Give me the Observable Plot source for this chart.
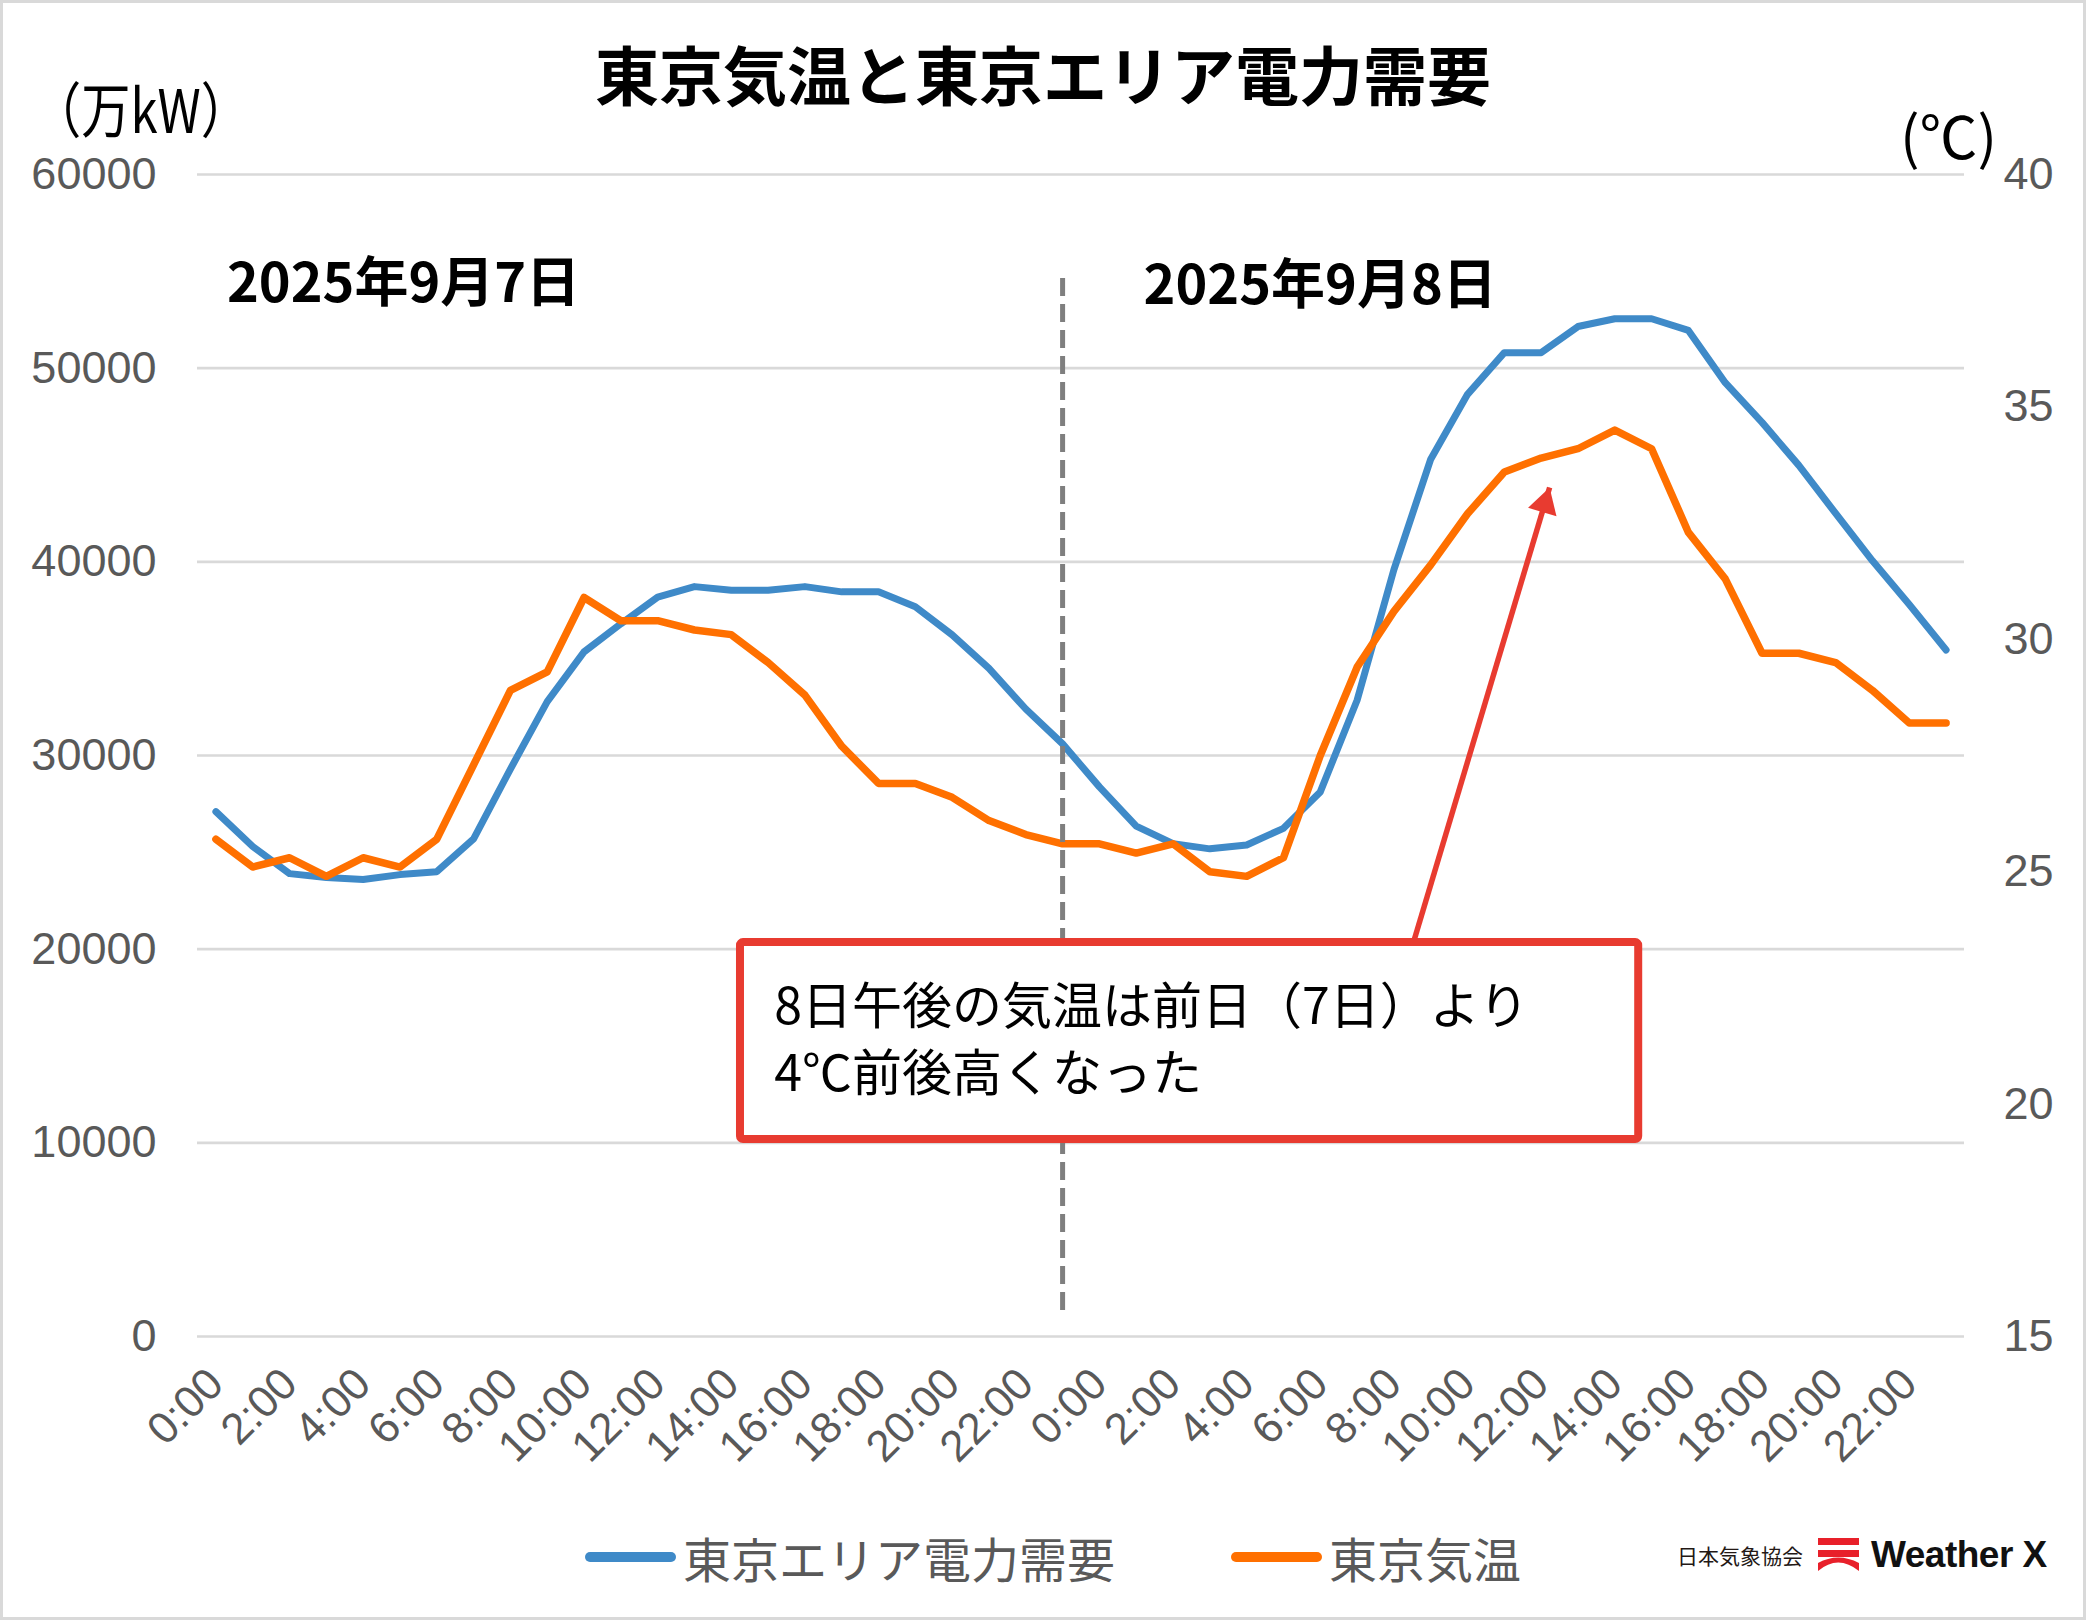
<!DOCTYPE html>
<html><head><meta charset="utf-8">
<script src="https://cdn.jsdelivr.net/npm/d3@7"></script>
<script src="https://cdn.jsdelivr.net/npm/@observablehq/plot@0.6"></script>
<style>
body{margin:0;background:#fff;}
#chart{position:relative;width:2086px;height:1620px;overflow:hidden;background:#fff;font-family:"Noto Sans CJK JP","Noto Sans",sans-serif;}
#plot{position:absolute;left:0;top:0;}
#frame{position:absolute;left:0;top:0;right:0;bottom:0;border:3px solid #d9d9d9;pointer-events:none;}
.abs{position:absolute;white-space:nowrap;}
#title{left:0;width:2086px;top:36px;text-align:center;font-size:64px;line-height:72px;font-weight:bold;color:#000;}
#unitL{left:32px;top:72px;font-size:60px;line-height:70px;color:#000;transform:scaleX(0.82);transform-origin:left center;}
#unitR{left:1900px;top:109px;font-size:58px;line-height:50px;color:#000;}
.leg{top:1527px;height:60px;display:flex;align-items:center;font-size:48px;color:#595959;}
.sw{width:91px;height:10px;border-radius:5px;margin-right:7px;}
#logo{left:1677px;top:1535px;height:40px;display:flex;align-items:center;}
</style></head><body>
<div id="chart">
  <div id="plot"></div>
  <div id="title" class="abs">東京気温と東京エリア電力需要</div>
  <div id="unitL" class="abs">（万kW）</div>
  <div id="unitR" class="abs">(℃)</div>
  <div class="abs leg" style="left:585px"><div class="sw" style="background:#3F8AC8"></div><span>東京エリア電力需要</span></div>
  <div class="abs leg" style="left:1231px"><div class="sw" style="background:#FF7000"></div><span>東京気温</span></div>
  <div id="logo" class="abs">
    <span style="font-size:21px;color:#231815;margin-right:15px;">日本気象協会</span>
    <svg width="41" height="34" viewBox="0 0 41 34" style="margin-right:12px">
      <rect x="0" y="0" width="41" height="7" fill="#E8202A"/>
      <rect x="0" y="12" width="41" height="7" fill="#E8202A"/>
      <path d="M0,33 Q20,16 41,33 L41,25 Q20,14 0,25 Z" fill="#E8202A"/>
    </svg>
    <span style="font-family:'Liberation Sans',Arial,sans-serif;font-weight:bold;font-size:37px;color:#111;letter-spacing:-0.5px;">Weather X</span>
  </div>
  <div id="frame"></div>
</div>
<script>
// hourly index 0..47 : 2025-09-07 0:00 .. 2025-09-08 23:00
const hours = d3.range(48);
// 東京エリア電力需要 (万kW)
const demand = [27100,25300,23900,23700,23600,23850,24000,25700,29300,32780,35350,36800,38180,38720,38530,38530,38720,38450,38450,37680,36230,34500,32400,30600,
                28380,26350,25450,25180,25380,26240,28120,32850,39600,45300,48650,50800,50800,52150,52550,52550,51950,49250,47200,44980,42500,40050,37800,35450];
// 東京気温 (℃)
const temp = [25.7,25.1,25.3,24.9,25.3,25.1,25.7,27.3,28.9,29.3,30.9,30.4,30.4,30.2,30.1,29.5,28.8,27.7,26.9,26.9,26.6,26.1,25.8,25.6,
              25.6,25.4,25.6,25.0,24.9,25.3,27.5,29.4,30.6,31.6,32.7,33.6,33.9,34.1,34.5,34.1,32.3,31.3,29.7,29.7,29.5,28.9,28.2,28.2];
// axes
const leftTicks = [0,10000,20000,30000,40000,50000,60000];
const rightTicks = [15,20,25,30,35,40];
const xTickHours = d3.range(0,48,2);
const xTickLabel = i => `${i % 24}:00`;
// temperature axis (15–40℃) mapped onto demand axis (0–60000)
const tMin = 15, tMax = 40, dMax = 60000;
const tToD = t => (t - tMin) / (tMax - tMin) * dMax;
// annotations
const dayLabels = [{label: "2025年9月7日", hour: 0.3, value: 54330}, {label: "2025年9月8日", hour: 25.2, value: 54230}];
const divider = [{hour: 23, from: 1340, to: 54800}];
const callout = [{x1: 14.25, x2: 38.65, y1: 10170, y2: 20340}];
const calloutText = [{text: "8日午後の気温は前日（7日）より", hour: 15.17, value: 16950}, {text: "4℃前後高くなった", hour: 15.17, value: 13480}];
const arrow = [{x1: 32.53, y1: 20340, x2: 36.23, y2: 43840}];

const blue = "#3F8AC8", orange = "#FF7000", red = "#E83B30";

const chart = Plot.plot({
  width: 2086, height: 1620,
  marginLeft: 197, marginRight: 122, marginTop: 174, marginBottom: 284,
  style: {fontFamily: "'Liberation Sans', Arial, sans-serif", fontSize: "45px", color: "#595959", background: "transparent", overflow: "visible"},
  x: {domain: [-0.5, 47.5]},
  y: {domain: [0, dMax]},
  marks: [
    Plot.gridY(leftTicks, {stroke: "#d9d9d9", strokeOpacity: 1, strokeWidth: 2.7}),
    Plot.axisY(leftTicks, {anchor: "left", tickSize: 0, tickPadding: 41, tickFormat: d3.format("d"), label: null, fill: "#595959"}),
    Plot.axisY(rightTicks.map(tToD), {anchor: "right", tickSize: 0, tickPadding: 39, tickFormat: d => Math.round(tMin + d / dMax * (tMax - tMin)), label: null, fill: "#595959"}),
    Plot.axisX(xTickHours, {anchor: "bottom", tickSize: 0, tickPadding: 40, tickRotate: -45, tickFormat: xTickLabel, label: null, fill: "#595959", fontSize: 44}),
    Plot.line(hours, {x: d => d, y: i => demand[i], stroke: blue, strokeWidth: 7, strokeLinejoin: "round", strokeLinecap: "round"}),
    Plot.line(hours, {x: d => d, y: i => tToD(temp[i]), stroke: orange, strokeWidth: 7.5, strokeLinejoin: "round", strokeLinecap: "round"}),
    Plot.ruleX(divider, {x: "hour", y1: "from", y2: "to", stroke: "#7f7f7f", strokeWidth: 5, strokeDasharray: "18,8"}),
    Plot.text(dayLabels, {x: "hour", y: "value", text: "label", textAnchor: "start", fontSize: 54, fontWeight: "bold", fill: "#000", fontFamily: "'Noto Sans CJK JP', sans-serif"}),
    Plot.link(arrow, {x1: "x1", y1: "y1", x2: "x2", y2: "y2", stroke: red, strokeWidth: 5.5}),
    Plot.dot(arrow, {x: "x2", y: "y2", symbol: "triangle", r: 11, fill: red, stroke: "none", rotate: 16.6, dx: -4.9, dy: 16.4}),
    Plot.rect(callout, {x1: "x1", x2: "x2", y1: "y1", y2: "y2", fill: "white", stroke: red, strokeWidth: 8, rx: 3}),
    Plot.text(calloutText, {x: "hour", y: "value", text: "text", textAnchor: "start", fontSize: 50, fill: "#000", fontFamily: "'Noto Sans CJK JP', sans-serif"})
  ]
});
document.getElementById("plot").appendChild(chart);
</script>
</body></html>
